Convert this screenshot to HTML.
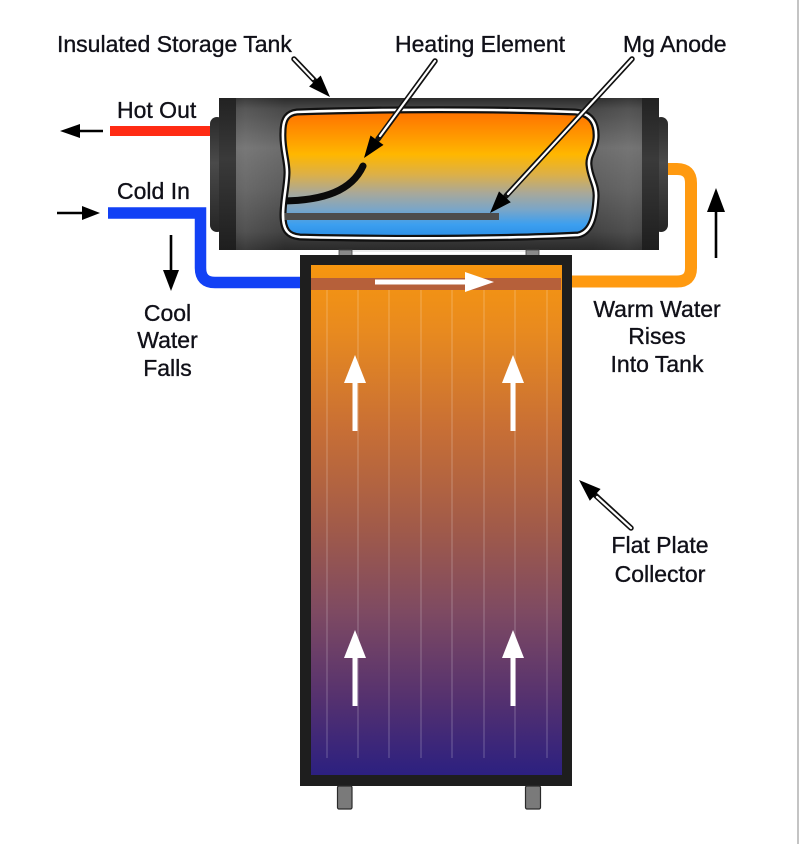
<!DOCTYPE html>
<html><head><meta charset="utf-8"><style>
html,body{margin:0;padding:0;background:#fff;}
svg{display:block;}
text{font-family:"Liberation Sans",Arial,sans-serif;font-size:23px;fill:#101018;stroke:#101018;stroke-width:0.35;}
</style></head><body>
<svg width="800" height="844" viewBox="0 0 800 844" xmlns="http://www.w3.org/2000/svg">
<defs>
<linearGradient id="tank" x1="0" y1="98" x2="0" y2="250" gradientUnits="userSpaceOnUse">
<stop offset="0" stop-color="#2c2c2c"/><stop offset="0.07" stop-color="#484848"/>
<stop offset="0.33" stop-color="#6c6c6c"/><stop offset="0.6" stop-color="#5c5c5c"/>
<stop offset="0.88" stop-color="#434343"/><stop offset="1" stop-color="#2a2a2a"/>
</linearGradient>
<linearGradient id="strip" x1="0" y1="98" x2="0" y2="250" gradientUnits="userSpaceOnUse">
<stop offset="0" stop-color="#222"/><stop offset="0.4" stop-color="#3a3a3a"/><stop offset="1" stop-color="#1e1e1e"/>
</linearGradient>
<linearGradient id="cap" x1="0" y1="117" x2="0" y2="232" gradientUnits="userSpaceOnUse">
<stop offset="0" stop-color="#2a2a2a"/><stop offset="0.4" stop-color="#4a4a4a"/><stop offset="1" stop-color="#252525"/>
</linearGradient>
<linearGradient id="hl" x1="219" y1="0" x2="659" y2="0" gradientUnits="userSpaceOnUse">
<stop offset="0" stop-color="#fff" stop-opacity="0"/><stop offset="0.06" stop-color="#fff" stop-opacity="0.08"/>
<stop offset="0.15" stop-color="#fff" stop-opacity="0"/><stop offset="0.85" stop-color="#fff" stop-opacity="0"/>
<stop offset="0.93" stop-color="#fff" stop-opacity="0.06"/><stop offset="1" stop-color="#fff" stop-opacity="0"/>
</linearGradient>
<linearGradient id="water" x1="0" y1="112" x2="0" y2="237" gradientUnits="userSpaceOnUse">
<stop offset="0" stop-color="#ff7200"/><stop offset="0.2" stop-color="#ff9a00"/>
<stop offset="0.34" stop-color="#ffb700"/><stop offset="0.5" stop-color="#dcb048"/>
<stop offset="0.65" stop-color="#a8a89a"/><stop offset="0.78" stop-color="#7aa6c8"/>
<stop offset="0.9" stop-color="#3c9ff0"/><stop offset="1" stop-color="#2b8fe6"/>
</linearGradient>
<linearGradient id="coll" x1="0" y1="265" x2="0" y2="775" gradientUnits="userSpaceOnUse">
<stop offset="0" stop-color="#f7960f"/><stop offset="0.13" stop-color="#e88a1f"/>
<stop offset="0.32" stop-color="#c86f35"/><stop offset="0.52" stop-color="#a05a4a"/>
<stop offset="0.68" stop-color="#7e4a62"/><stop offset="0.85" stop-color="#55316f"/>
<stop offset="1" stop-color="#2c2080"/>
</linearGradient>
<clipPath id="win">
<path d="M297,112 C380,109 500,109 575,112 C590,113 597,122 596,138 C595,150 588,155 589,165 C590,178 597,185 596,198 C595,215 592,232 578,235 C500,239 380,239 300,237 C288,236 283,230 283,215 C283,200 287,185 287,172 C287,160 282,148 283,132 C283,118 288,113 297,112 Z"/>
</clipPath>
</defs>

<rect x="797" y="0" width="2" height="844" fill="#c4c4c4"/>

<rect x="110" y="126" width="102" height="10" fill="#ff2b14"/>
<path d="M108,213 H200.5 V268 Q200.5,282.5 215,282.5 H302" fill="none" stroke="#1241f5" stroke-width="11.5"/>
<path d="M666,169 H677 Q691,169 691,183 V268 Q691,281.5 677,281.5 H570" fill="none" stroke="#ff9a10" stroke-width="12"/>

<rect x="210" y="117" width="14" height="115" rx="7" fill="url(#cap)"/>
<rect x="654" y="117" width="14" height="115" rx="7" fill="url(#cap)"/>
<rect x="219" y="98" width="440" height="152" rx="2" fill="url(#tank)"/>
<rect x="219" y="98" width="440" height="152" fill="url(#hl)"/>
<rect x="219" y="98" width="17" height="152" fill="url(#strip)"/>
<rect x="642" y="98" width="17" height="152" fill="url(#strip)"/>

<path d="M297,112 C380,109 500,109 575,112 C590,113 597,122 596,138 C595,150 588,155 589,165 C590,178 597,185 596,198 C595,215 592,232 578,235 C500,239 380,239 300,237 C288,236 283,230 283,215 C283,200 287,185 287,172 C287,160 282,148 283,132 C283,118 288,113 297,112 Z" fill="url(#water)" stroke="#111" stroke-width="7"/>
<g clip-path="url(#win)">
<rect x="280" y="213" width="219" height="7" fill="#4d4d4d"/>
<path d="M280,201 C325,201 352,190 363,166" fill="none" stroke="#0a0a0a" stroke-width="7" stroke-linecap="round"/>
</g>
<path d="M297,112 C380,109 500,109 575,112 C590,113 597,122 596,138 C595,150 588,155 589,165 C590,178 597,185 596,198 C595,215 592,232 578,235 C500,239 380,239 300,237 C288,236 283,230 283,215 C283,200 287,185 287,172 C287,160 282,148 283,132 C283,118 288,113 297,112 Z" fill="none" stroke="#fff" stroke-width="2.6"/>

<rect x="352" y="251" width="174" height="4" fill="#fff" stroke="#cfcfcf" stroke-width="0.8"/>
<rect x="339" y="250" width="13" height="6" fill="#8a8a8a" stroke="#444" stroke-width="0.8"/>
<rect x="526" y="250" width="13" height="6" fill="#8a8a8a" stroke="#444" stroke-width="0.8"/>

<rect x="300" y="255" width="272" height="531" fill="#1e1e1e"/>
<rect x="311" y="265" width="251" height="510" fill="url(#coll)"/>
<g stroke="#fff" stroke-opacity="0.18" stroke-width="1.5">
<line x1="327" y1="290" x2="327" y2="758"/><line x1="358" y1="290" x2="358" y2="758"/>
<line x1="389" y1="290" x2="389" y2="758"/><line x1="421" y1="290" x2="421" y2="758"/>
<line x1="452" y1="290" x2="452" y2="758"/><line x1="484" y1="290" x2="484" y2="758"/>
<line x1="515" y1="290" x2="515" y2="758"/><line x1="547" y1="290" x2="547" y2="758"/>
</g>
<rect x="311" y="278" width="250" height="12" fill="#b6603a"/>
<rect x="375" y="279.5" width="95" height="5" fill="#fff"/>
<polygon points="465,272 494,282 465,292" fill="#fff"/>

<g fill="#fff">
<rect x="352.5" y="380" width="5" height="51"/><polygon points="355,355 366,383 344,383"/>
<rect x="510.5" y="380" width="5" height="51"/><polygon points="513,355 524,383 502,383"/>
<rect x="352.5" y="655" width="5" height="51"/><polygon points="355,630 366,658 344,658"/>
<rect x="510.5" y="655" width="5" height="51"/><polygon points="513,630 524,658 502,658"/>
</g>

<rect x="337.5" y="786" width="14.5" height="23" rx="1.5" fill="#7a7a7a" stroke="#2a2a2a" stroke-width="1.2"/>
<rect x="525.5" y="786" width="15" height="23" rx="1.5" fill="#7a7a7a" stroke="#2a2a2a" stroke-width="1.2"/>

<g stroke="#000" stroke-width="2.6">
<line x1="103" y1="131" x2="76" y2="131"/>
<line x1="57" y1="213" x2="84" y2="213"/>
<line x1="171" y1="235" x2="171" y2="272"/>
<line x1="716" y1="258" x2="716" y2="208"/>
</g>
<g fill="#000">
<polygon points="60,131 80,124 80,138"/>
<polygon points="100,213 82,206 82,220"/>
<polygon points="171,291 163,270 179,270"/>
<polygon points="716,188 707,212 725,212"/>
</g>

<g stroke-linecap="round" fill="none">
<g stroke="#111" stroke-width="5.5">
<line x1="294" y1="59" x2="316" y2="82"/>
<line x1="435" y1="61" x2="378" y2="139"/>
<line x1="632" y1="59" x2="506" y2="196"/>
<line x1="631" y1="528" x2="594" y2="494"/>
</g>
<g stroke="#fff" stroke-width="2.2">
<line x1="294" y1="59" x2="313" y2="79"/>
<line x1="435" y1="61" x2="380" y2="136"/>
<line x1="632" y1="59" x2="508" y2="194"/>
<line x1="631" y1="528" x2="597" y2="497"/>
</g>
</g>
<g fill="#000">
<polygon points="330,97 309.1,86.5 320.7,75.5"/>
<polygon points="364,158 370.5,135.5 383.5,144.9"/>
<polygon points="490,213 499,191.4 510.8,202.2"/>
<polygon points="579,480 600.6,489 589.8,500.8"/>
</g>

<text x="57" y="52">Insulated Storage Tank</text>
<text x="395" y="52">Heating Element</text>
<text x="623" y="52">Mg Anode</text>
<text x="117" y="118">Hot Out</text>
<text x="117" y="199">Cold In</text>
<g text-anchor="middle">
<text x="167.5" y="321">Cool</text>
<text x="167.5" y="348">Water</text>
<text x="167.5" y="376">Falls</text>
<text x="657" y="317">Warm Water</text>
<text x="657" y="344">Rises</text>
<text x="657" y="372">Into Tank</text>
<text x="660" y="553">Flat Plate</text>
<text x="660" y="582">Collector</text>
</g>
</svg>
</body></html>
